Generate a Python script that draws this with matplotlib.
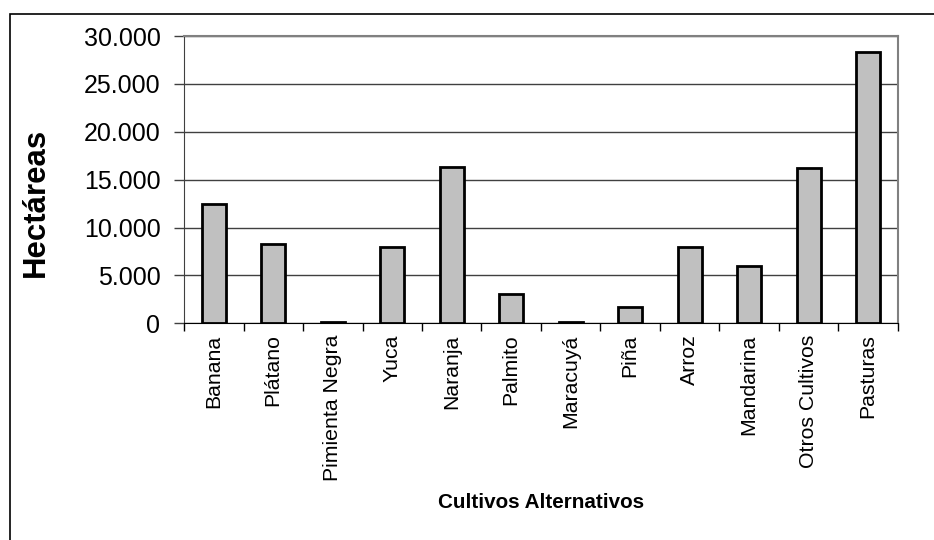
#!/usr/bin/env python3

import matplotlib
matplotlib.use('Agg')
import matplotlib.pyplot as plt
import matplotlib.ticker as mticker
from matplotlib.patches import Rectangle
import numpy as np

plt.rcParams['font.family'] = ['Liberation Sans', 'DejaVu Sans']

cultivos = ['Banana', 'Plátano', 'Pimienta Negra', 'Yuca', 'Naranja', 'Palmito',
            'Maracuyá', 'Piña', 'Arroz', 'Mandarina', 'Otros Cultivos', 'Pasturas']
hectareas = [12500, 8300, 150, 8000, 16300, 3050, 150, 1700, 8000, 6000, 16250, 28300]
y_ticks = [0, 5000, 10000, 15000, 20000, 25000, 30000]

W, H = 934, 540
fig = plt.figure(figsize=(W / 100, H / 100), dpi=100)
ax = fig.add_axes([184 / W, (H - 323.3) / H, (898 - 184) / W, (323.3 - 36) / H])

x = np.arange(len(cultivos))
ax.bar(x, hectareas, width=0.41, color='#C0C0C0', edgecolor='black', linewidth=2, zorder=3)

ax.set_xlim(-0.5, len(cultivos) - 0.5)
ax.set_ylim(0, 30000)
ax.set_yticks(y_ticks)
ax.yaxis.set_major_formatter(mticker.FuncFormatter(lambda v, p: '{:,.0f}'.format(v).replace(',', '.')))
ax.yaxis.grid(True, color='#404040', lw=1, zorder=0)

# ticks sit between categories, labels in the middle
ax.set_xticks(np.arange(len(cultivos) + 1) - 0.5)
ax.set_xticklabels([])
ax.set_xticks(x, minor=True)
ax.set_xticklabels(cultivos, minor=True, rotation=90, fontsize=15.3)
ax.tick_params(axis='x', which='minor', length=0, pad=8)
ax.tick_params(axis='x', which='major', length=6, width=1, direction='out', color='black')
ax.tick_params(axis='y', length=7, width=1, direction='out', labelsize=18, pad=10, color='#404040')

for s in ['top', 'right']:
    ax.spines[s].set_color('#808080')
    ax.spines[s].set_linewidth(1.5)
ax.spines['left'].set_color('#404040')
ax.spines['bottom'].set_color('black')

fig.text(36 / W, 1 - 202.5 / H, 'Hectáreas', rotation=90, fontsize=22.4, fontweight='bold',
         ha='center', va='center')
fig.text(541 / W, 1 - 502 / H, 'Cultivos Alternativos', fontsize=14.9, fontweight='bold',
         ha='center', va='center')

# outer chart frame
fig.patches.append(Rectangle((10 / W, -0.5), 2, 1.5 - 14 / H, transform=fig.transFigure,
                             fill=False, edgecolor='black', lw=1.2))

plt.savefig('out.png', dpi=100)
